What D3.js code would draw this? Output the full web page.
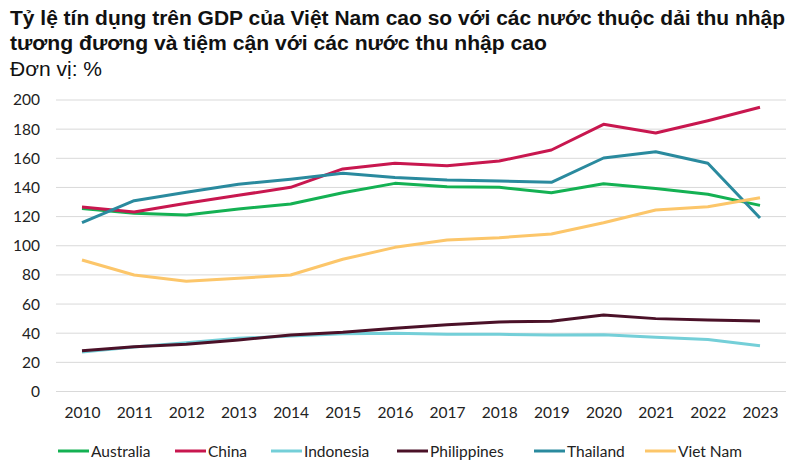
<!DOCTYPE html>
<html><head><meta charset="utf-8">
<script src="https://cdn.jsdelivr.net/npm/d3@7"></script>
<style>body{margin:0;background:#fff}</style>
</head><body>
<svg id="c" width="800" height="467"></svg>
<script>
const years = ["2010","2011","2012","2013","2014","2015","2016","2017","2018","2019","2020","2021","2022","2023"];
const yTicks = [0,20,40,60,80,100,120,140,160,180,200];
const seriesNames = ["Australia","China","Indonesia","Philippines","Thailand","Viet Nam"];
const australia  = [125.5,122.3,121.1,125.2,128.6,136.4,142.8,140.5,140.1,136.4,142.6,139.2,135.3,127.7];
const china      = [126.6,123.2,129.1,134.6,140.1,152.7,156.6,154.9,158.1,165.7,183.3,177.4,185.8,195.0];
const indonesia  = [27.1,30.5,33.5,36.5,38.0,39.7,39.9,39.2,39.2,38.8,39.0,37.2,35.6,31.4];
const philippines= [28.0,30.7,32.4,35.3,38.8,40.6,43.4,45.8,47.7,48.2,52.5,50.0,49.0,48.4];
const thailand   = [115.8,130.9,136.7,142.2,145.6,149.7,146.8,145.1,144.4,143.5,160.2,164.5,156.6,119.0];
const vietnam    = [90.2,79.9,75.6,77.7,79.9,90.7,98.9,103.9,105.5,108.1,115.8,124.5,126.8,133.0];
const colors = ["#14b153","#c8174f","#74cfd8","#4b1128","#2a8a9e","#fcc66a"];
const data = [australia, china, indonesia, philippines, thailand, vietnam];

const svg = d3.select("#c");
const x = d3.scalePoint().domain(years).range([82, 760]);
const y = d3.scaleLinear().domain([0,200]).range([391.5, 100]);

// title
const t = svg.append("g").attr("font-family","Liberation Sans, Arial, sans-serif").attr("fill","#111");
t.append("text").attr("x",10).attr("y",25).attr("font-size",20).attr("font-weight","bold")
 .attr("textLength",775).attr("lengthAdjust","spacingAndGlyphs")
 .text("Tỷ lệ tín dụng trên GDP của Việt Nam cao so với các nước thuộc dải thu nhập");
t.append("text").attr("x",10).attr("y",50).attr("font-size",20).attr("font-weight","bold")
 .attr("textLength",537).attr("lengthAdjust","spacingAndGlyphs")
 .text("tương đương và tiệm cận với các nước thu nhập cao");
t.append("text").attr("x",10).attr("y",76).attr("font-size",20)
 .attr("textLength",92).attr("lengthAdjust","spacingAndGlyphs")
 .text("Đơn vị: %");

// grid
svg.append("g").selectAll("line").data(yTicks).join("line")
  .attr("x1",56).attr("x2",786).attr("y1",d=>y(d)).attr("y2",d=>y(d))
  .attr("stroke","#d9d9d9").attr("stroke-width",1);

// y axis labels
const yAxis = svg.append("g").attr("transform","translate(40,0)")
  .call(d3.axisLeft(y).tickValues(yTicks).tickSize(0).tickPadding(0));
yAxis.select(".domain").remove();
yAxis.selectAll("text").attr("font-family","Lato, sans-serif").attr("font-size",15.5).attr("fill","#222");

// x axis labels
const xAxis = svg.append("g").attr("transform","translate(0,407)")
  .call(d3.axisBottom(x).tickSize(0).tickPadding(0));
xAxis.select(".domain").remove();
xAxis.selectAll("text").attr("font-family","Lato, sans-serif").attr("font-size",15.5).attr("fill","#222");

// lines
const line = d3.line().x((d,i)=>x(years[i])).y(d=>y(d));
svg.append("g").selectAll("path").data(data).join("path")
  .attr("d", d=>line(d)).attr("fill","none")
  .attr("stroke",(d,i)=>colors[i]).attr("stroke-width",3)
  .attr("stroke-linejoin","round").attr("stroke-linecap","butt");

// legend
const legX = [58, 175, 271, 397, 534, 645];
const lg = svg.append("g").selectAll("g").data(seriesNames).join("g")
  .attr("transform",(d,i)=>`translate(${legX[i]},451)`);
lg.append("line").attr("x1",0).attr("x2",31).attr("y1",0).attr("y2",0)
  .attr("stroke",(d,i)=>colors[i]).attr("stroke-width",3);
lg.append("text").attr("x",33).attr("y",5.5).attr("font-family","Lato, sans-serif")
  .attr("font-size",15.5).attr("fill","#222").text(d=>d);
</script>
</body></html>
